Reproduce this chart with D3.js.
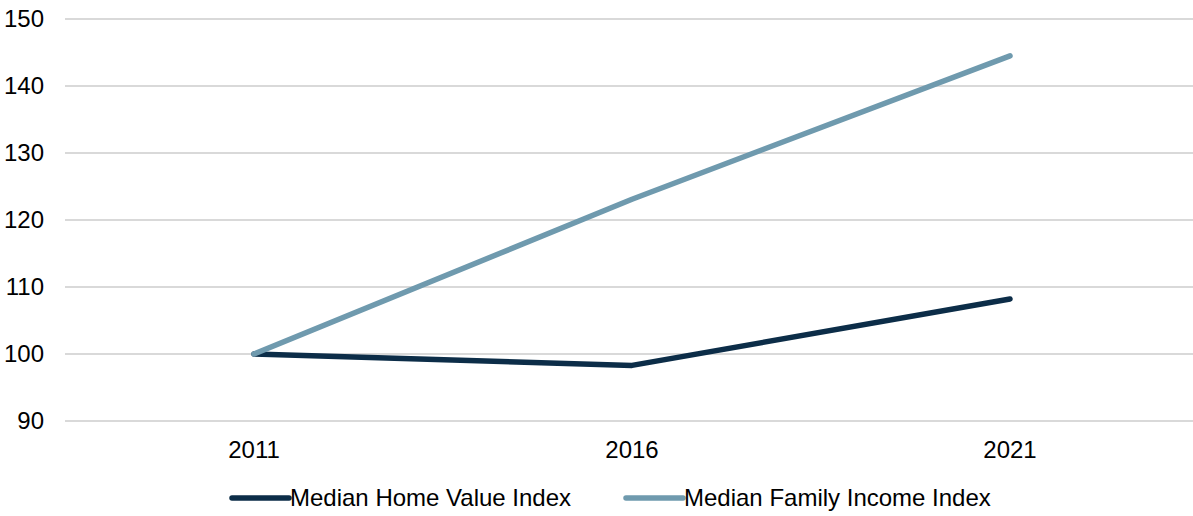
<!DOCTYPE html>
<html>
<head>
<meta charset="utf-8">
<script src="https://cdn.jsdelivr.net/npm/d3@7"></script>
<style>
  html, body { margin: 0; padding: 0; background: #fff; }
  svg { display: block; font-family: "Liberation Sans", Arial, sans-serif; }
</style>
</head>
<body>
<div id="chart"></div>
<script>
// Index values (2011 = 100)
const years = ['2011', '2016', '2021'];
const homeValue = [100, 98.3, 108.2];
const familyIncome = [100, 123.1, 144.5];
const yTicks = [90, 100, 110, 120, 130, 140, 150];

const seriesList = [
  { name: 'Median Home Value Index', values: homeValue, color: '#0c2d48' },
  { name: 'Median Family Income Index', values: familyIncome, color: '#6f9aae' }
];

const width = 1193, height = 516;
const margin = { top: 19, right: -6, bottom: 95, left: 65 };
const fontSize = 24;

const svg = d3.select('#chart')
  .append('svg')
  .attr('width', width)
  .attr('height', height);

const x = d3.scalePoint()
  .domain(years)
  .range([margin.left, width - margin.right])
  .padding(0.5);

const y = d3.scaleLinear()
  .domain([90, 150])
  .range([height - margin.bottom, margin.top]);

// gridlines
svg.append('g')
  .selectAll('line')
  .data(yTicks)
  .join('line')
  .attr('x1', margin.left)
  .attr('x2', width)
  .attr('y1', d => y(d))
  .attr('y2', d => y(d))
  .attr('stroke', '#d9d9d9')
  .attr('stroke-width', 2);

// y labels
svg.append('g')
  .selectAll('text')
  .data(yTicks)
  .join('text')
  .attr('x', 44)
  .attr('y', d => y(d))
  .attr('dy', '0.35em')
  .attr('text-anchor', 'end')
  .attr('font-size', fontSize)
  .attr('fill', '#000')
  .text(d => d);

// x labels
svg.append('g')
  .selectAll('text')
  .data(years)
  .join('text')
  .attr('x', d => x(d))
  .attr('y', 458)
  .attr('text-anchor', 'middle')
  .attr('font-size', fontSize)
  .attr('fill', '#000')
  .text(d => d);

const line = d3.line()
  .x((d, i) => x(years[i]))
  .y(d => y(d));

svg.append('g')
  .selectAll('path')
  .data(seriesList)
  .join('path')
  .attr('d', d => line(d.values))
  .attr('fill', 'none')
  .attr('stroke', d => d.color)
  .attr('stroke-width', 5.5)
  .attr('stroke-linecap', 'round')
  .attr('stroke-linejoin', 'round');

// legend
const legendX = [232, 626];
const legend = svg.append('g')
  .selectAll('g')
  .data(seriesList)
  .join('g')
  .attr('transform', (d, i) => `translate(${legendX[i]},498)`);

legend.append('line')
  .attr('x1', 0).attr('x2', 57)
  .attr('stroke', d => d.color)
  .attr('stroke-width', 5.5)
  .attr('stroke-linecap', 'round');

legend.append('text')
  .attr('x', 58)
  .attr('dy', '0.35em')
  .attr('font-size', fontSize)
  .attr('fill', '#000')
  .text(d => d.name);
</script>
</body>
</html>
